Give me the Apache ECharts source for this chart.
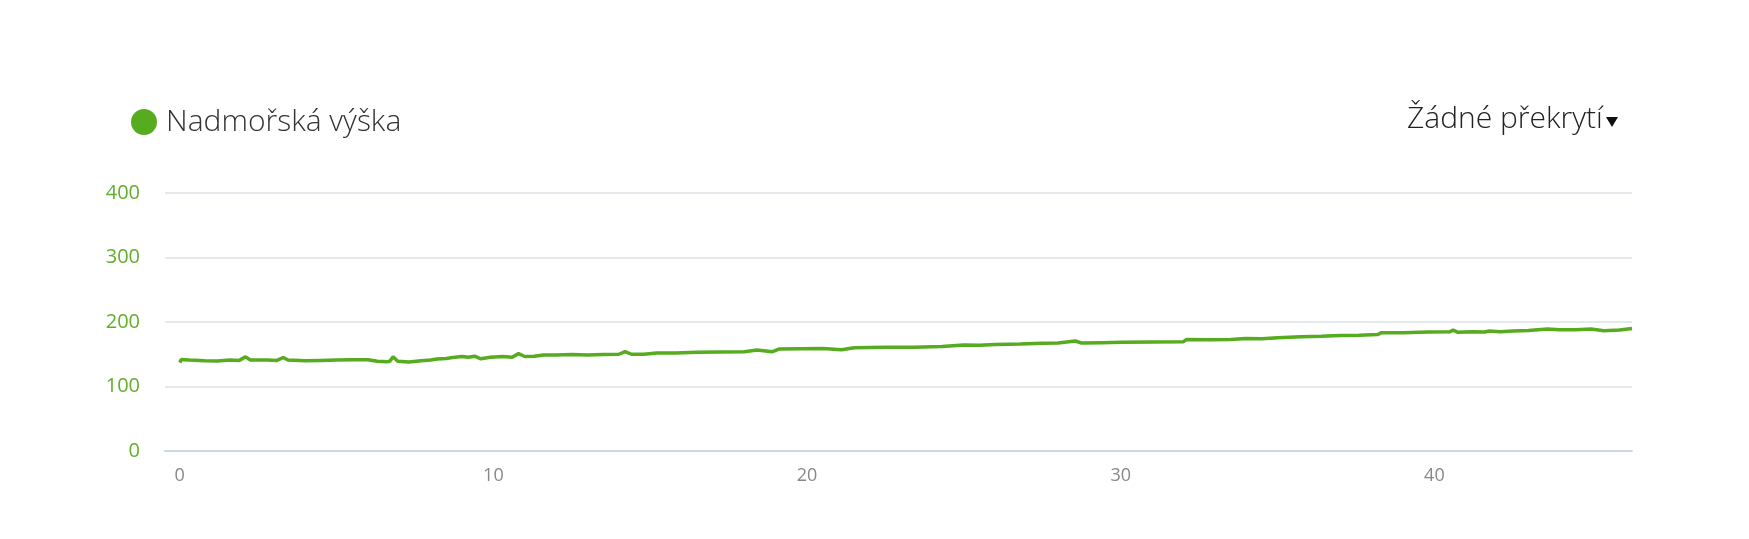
<!DOCTYPE html>
<html>
<head>
<meta charset="utf-8">
<script src="https://cdn.jsdelivr.net/npm/echarts@6/dist/echarts.min.js"></script>
<style>
html,body{margin:0;padding:0;background:#fff;}
#chart{width:1749px;height:539px;}
</style>
</head>
<body>
<div id="chart"></div>
<script>
const seriesName = 'Nadmořská výška';
const overlayLabel = 'Žádné překrytí';
const xTickValues = [0, 10, 20, 30, 40];
const yTickValues = [0, 100, 200, 300, 400];
const distanceKm = [0.0, 0.05, 0.3, 0.8, 1.2, 1.6, 1.9, 2.1, 2.25, 2.8, 3.1, 3.3, 3.45, 4.0, 4.5, 5.0, 5.5, 6.0, 6.3, 6.6, 6.7, 6.8, 6.95, 7.3, 7.7, 8.0, 8.2, 8.5, 8.7, 9.0, 9.2, 9.4, 9.6, 9.9, 10.3, 10.6, 10.8, 11.0, 11.3, 11.6, 12.0, 12.5, 13.0, 13.5, 14.0, 14.2, 14.4, 14.8, 15.2, 15.8, 16.5, 17.2, 18.0, 18.4, 18.9, 19.1, 19.8, 20.5, 21.1, 21.5, 22.5, 23.4, 24.3, 25.0, 25.5, 26.0, 26.8, 27.5, 28.0, 28.55, 28.75, 29.4, 30.0, 31.0, 32.0, 32.1, 32.8, 33.5, 34.0, 34.5, 35.0, 35.75, 36.4, 37.0, 37.6, 38.2, 38.3, 39.0, 39.8, 40.5, 40.6, 40.75, 41.2, 41.6, 41.75, 42.1, 42.5, 43.0, 43.6, 44.0, 44.5, 45.0, 45.4, 45.9, 46.3];
const elevationM = [137, 142, 141, 140, 139.5, 141, 140.5, 146, 141, 141, 140.5, 145, 141, 140, 140.5, 141, 141.5, 141.5, 139, 138.5, 139, 146, 139, 138, 140, 141, 142.5, 143.5, 145, 146.5, 145.5, 147, 143, 145.5, 146.5, 145.5, 151, 146.5, 147, 149, 149, 149.5, 149, 149.5, 150, 154, 150, 150, 152, 152, 153, 153.5, 154, 156.5, 154, 158, 158.5, 159, 157, 160, 161, 161, 162, 164.5, 164, 165, 166, 167, 167.5, 170.5, 167.5, 168, 168.5, 169, 169.5, 173, 172.5, 173, 174.5, 174, 175.5, 177, 178, 179, 179.5, 180.5, 183.5, 183.5, 184.5, 185, 187.5, 184, 185, 184.5, 186, 185, 186, 187, 189, 188, 188, 189, 186.5, 187.5, 190];

const green = '#56ab1f';
const data = distanceKm.map((d, i) => [d, elevationM[i]]);

const chart = echarts.init(document.getElementById('chart'));
chart.setOption({
  animation: false,
  backgroundColor: '#fff',
  legend: {
    left: 131, top: 107, padding: 0,
    icon: 'circle', itemWidth: 26, itemHeight: 26,
    textStyle: {fontFamily: 'Open Sans', fontWeight: 300, fontSize: 30, color: '#333', padding: [0,0,0,4]},
    data: [seriesName]
  },
  graphic: [
    {type: 'text', left: 1407, top: 104, style: {text: overlayLabel, font: '300 30px "Open Sans"', fill: '#222'}},
    {type: 'polygon', shape: {points: [[1606,117],[1618,117],[1612,127]]}, style: {fill: '#111'}}
  ],
  grid: {left: 165, right: 117, top: 193, bottom: 88},
  xAxis: {
    type: 'value', min: -0.47, max: 46.3,
    axisLine: {show: true, lineStyle: {color: '#ccd6eb', width: 2}},
    axisTick: {show: false},
    splitLine: {show: false},
    axisLabel: {customValues: xTickValues, color: '#888888', fontFamily: 'Open Sans', fontSize: 18, margin: 16}
  },
  yAxis: {
    type: 'value', min: 0, max: 400, interval: 100,
    axisLine: {show: false}, axisTick: {show: false},
    splitLine: {lineStyle: {color: '#dde2e8', width: 1.5}},
    axisLabel: {color: '#62ae2a', fontFamily: 'Open Sans', fontSize: 20, margin: 25,
      formatter: v => yTickValues.includes(v) ? String(v) : ''}
  },
  series: [{
    name: seriesName, type: 'line', data: data,
    showSymbol: false, color: green,
    lineStyle: {width: 3.5, color: green}
  }]
});
</script>
</body>
</html>
